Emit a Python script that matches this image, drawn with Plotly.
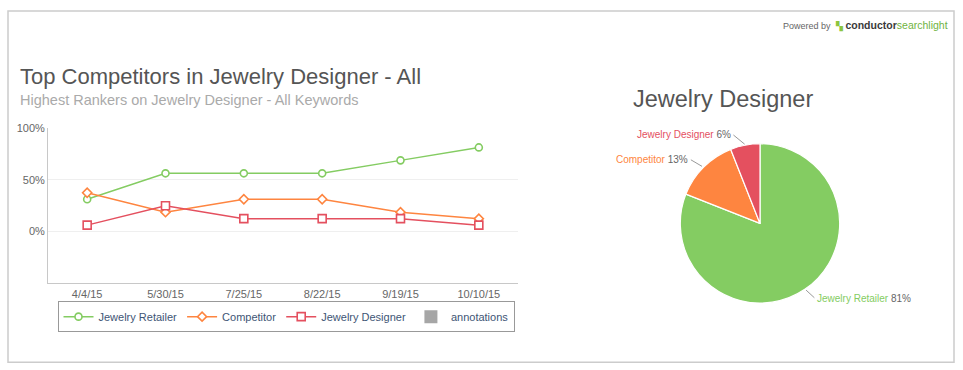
import math
import plotly.graph_objects as go

# ---- data ----
dates = ["4/4/15", "5/30/15", "7/25/15", "8/22/15", "9/19/15", "10/10/15"]
retailer = [31.25, 56.25, 56.25, 56.25, 68.75, 81.25]
competitor = [37.5, 18.75, 31.25, 31.25, 18.75, 12.5]
designer = [6.25, 25.0, 12.5, 12.5, 12.5, 6.25]
y_tickvals = [0, 50, 100]
y_ticktext = ["0%", "50%", "100%"]

pie_labels = ["Jewelry Retailer", "Competitor", "Jewelry Designer"]
pie_values = [81, 13, 6]

GREEN = "#84cc62"
ORANGE = "#fe8540"
RED = "#e4505f"
FONT = "Liberation Sans, Arial, sans-serif"
W, H = 963, 370

fig = go.Figure()

series = [
    ("Jewelry Retailer", retailer, GREEN, "circle", 7),
    ("Competitor", competitor, ORANGE, "diamond", 7),
    ("Jewelry Designer", designer, RED, "square", 8),
]
for name, vals, col, sym, sz in series:
    fig.add_trace(go.Scatter(
        x=dates, y=vals, name=name, mode="lines+markers",
        line=dict(color=col, width=1.5),
        marker=dict(symbol=sym, size=sz, color="white", line=dict(color=col, width=1.6)),
        xaxis="x", yaxis="y",
    ))

fig.add_trace(go.Scatter(
    x=[None], y=[None], name="annotations", mode="markers",
    marker=dict(symbol="square", size=13, color="#a6a6a6"),
    xaxis="x", yaxis="y",
))

# pie
cx, cy, r = 760, 221, 81
fig.add_trace(go.Pie(
    labels=pie_labels, values=pie_values, sort=False, direction="clockwise",
    rotation=0, textinfo="none", showlegend=False, hoverinfo="label+percent",
    marker=dict(colors=[GREEN, ORANGE, RED], line=dict(color="white", width=1.2)),
    domain=dict(x=[(cx - r) / W, (cx + r) / W], y=[1 - (cy + r) / H, 1 - (cy - r) / H]),
))

annotations = []
# pie labels computed from data
total = sum(pie_values)
cum = 0
pie_cols = [GREEN, ORANGE, RED]
for lab, v, col in zip(pie_labels, pie_values, pie_cols):
    mid = (cum + v / 2) / total * 2 * math.pi
    cum += v
    ex = cx + (r + 1) * math.sin(mid)
    ey = cy - (r + 1) * math.cos(mid)
    side = 1 if math.sin(mid) >= 0 else -1
    annotations.append(dict(
        x=ex / W, y=1 - ey / H, xref="paper", yref="paper",
        text=f"<span style='color:{col}'>{lab}</span> <span style='color:#666'>{v}%</span>",
        showarrow=True, arrowhead=0, arrowwidth=1, arrowcolor="#999",
        ax=9 * side if side > 0 else -12, ay=-10 * math.cos(mid),
        xanchor="left" if side > 0 else "right", yanchor="middle",
        font=dict(family=FONT, size=10), standoff=0, startstandoff=1,
    ))

annotations += [
    dict(x=18 / W, y=1 - 72 / H, xref="paper", yref="paper", xanchor="left", yanchor="middle",
         text="Top Competitors in Jewelry Designer - All", showarrow=False,
         font=dict(family=FONT, size=22, color="#555555")),
    dict(x=18 / W, y=1 - 96 / H, xref="paper", yref="paper", xanchor="left", yanchor="middle",
         text="Highest Rankers on Jewelry Designer - All Keywords", showarrow=False,
         font=dict(family=FONT, size=14.5, color="#aaaaaa")),
    dict(x=631 / W, y=1 - 95 / H, xref="paper", yref="paper", xanchor="left", yanchor="middle",
         text="Jewelry Designer", showarrow=False,
         font=dict(family=FONT, size=23.5, color="#555555")),
    dict(x=950 / W, y=1 - 20 / H, xref="paper", yref="paper", xanchor="right", yanchor="middle",
         text="<span style='font-size:9px;color:#666'>Powered by  </span>"
              "<span style='color:#8cc63f;font-size:9px'>▚</span> "
              "<span style='color:#3a3a3a;font-weight:bold'>conductor</span>"
              "<span style='color:#6fb33f'>searchlight</span>",
         showarrow=False, font=dict(family=FONT, size=10.5, color="#444")),
]

fig.update_layout(
    width=W, height=H, margin=dict(l=0, r=0, t=0, b=0),
    paper_bgcolor="white", plot_bgcolor="white",
    font=dict(family=FONT, size=11, color="#666"),
    xaxis=dict(domain=[48 / W, 518 / W], type="category", range=[-0.5, 5.5],
               showgrid=False, showline=True, linecolor="#c8c8c8", linewidth=1,
               ticks="", tickfont=dict(size=11, color="#666"), fixedrange=True),
    yaxis=dict(domain=[1 - 282 / H, 1 - 124 / H], range=[-50, 100],
               tickvals=y_tickvals, ticktext=y_ticktext, showgrid=True,
               gridcolor="#efefef", gridwidth=1, zeroline=False, showline=True,
               linecolor="#c8c8c8", linewidth=1, ticks="", ticklen=0,
               tickfont=dict(size=11, color="#666"), fixedrange=True),
    legend=dict(orientation="h", x=286 / W, y=1 - 300 / H, xanchor="center", yanchor="top",
                bordercolor="#999", borderwidth=1, bgcolor="white",
                font=dict(family=FONT, size=11, color="#3e5575"),
                itemwidth=30, tracegroupgap=0),
    annotations=annotations,
    shapes=[dict(type="rect", xref="paper", yref="paper",
                 x0=8 / W, x1=954 / W, y0=1 - 362 / H, y1=1 - 5 / H,
                 line=dict(color="#cccccc", width=1.5), fillcolor="rgba(0,0,0,0)", layer="below")],
    showlegend=True,
)

fig.write_html("out.html", config={"displayModeBar": False},
               post_script="document.body.style.margin='0';")
